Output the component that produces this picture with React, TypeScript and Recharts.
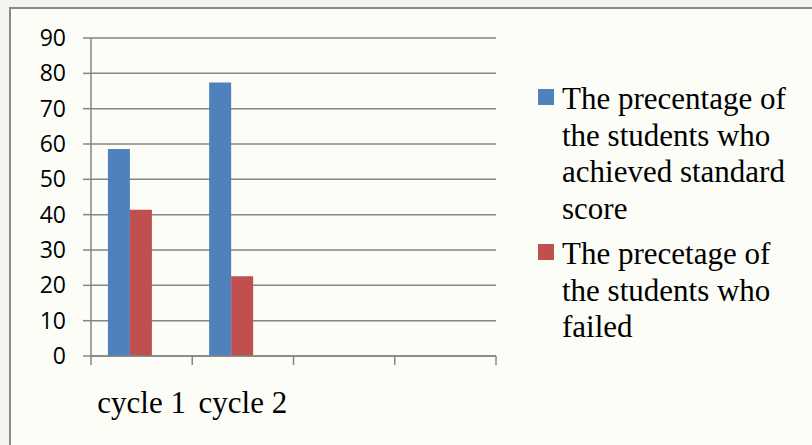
import React from 'react';
import { BarChart, Bar, XAxis, YAxis, CartesianGrid, Legend } from 'recharts';

const categories = ['cycle 1', 'cycle 2', '', ''];
const achieved = [58.6, 77.4, null, null];
const failed = [41.4, 22.6, null, null];
// third (empty) series kept so the bars sit left in each band like the original
const blank = [null, null, null, null];
const seriesNames = [
  'The precentage of the students who achieved standard score',
  'The precetage of the students who failed',
];
const seriesColors = ['#4F81BD', '#C0504D'];
const yTicks = [0, 10, 20, 30, 40, 50, 60, 70, 80, 90];

const data = categories.map((cat, i) => ({
  cat,
  achieved: achieved[i],
  failed: failed[i],
  blank: blank[i],
}));

const gridColor = '#858585';
const serif = '"Liberation Serif", "Times New Roman", serif';

const renderLegend = () => (
  <div style={{ fontFamily: serif, fontSize: 31, lineHeight: '36.7px', color: '#000', textAlign: 'left' }}>
    {seriesNames.map((name, i) => (
      <div key={name} style={{ display: 'flex', alignItems: 'flex-start', marginBottom: 8 }}>
        <span
          style={{ width: 16, height: 16, background: seriesColors[i], marginTop: 8, marginRight: 8, flex: 'none' }}
        />
        <span style={{ width: 240 }}>{name}</span>
      </div>
    ))}
  </div>
);

// label in the band centre, tick marks on the band edges (Excel style)
const CategoryTick = (props: any) => {
  const { x, y, payload, index } = props;
  const half = payload.offset ?? 0;
  const last = index === categories.length - 1;
  return (
    <g>
      <line x1={x - half} y1={y} x2={x - half} y2={y + 9} stroke={gridColor} strokeWidth={1.5} />
      {last && <line x1={x + half} y1={y} x2={x + half} y2={y + 9} stroke={gridColor} strokeWidth={1.5} />}
      <text x={x} y={y + 57} textAnchor="middle" fontFamily={serif} fontSize={31} fill="#000">
        {payload.value}
      </text>
    </g>
  );
};

export default function App() {
  return (
    <div style={{ position: 'absolute', left: 0, top: 0, width: 812, height: 445, background: '#F3F3F1', overflow: 'hidden' }}>
      <div
        style={{
          position: 'absolute',
          left: 9,
          top: 7,
          width: 830,
          height: 470,
          border: '2px solid #8a8a8a',
          background: '#FDFDF8',
        }}
      />
      <div style={{ position: 'absolute', left: 0, top: 0 }}>
        <BarChart
          width={812}
          height={445}
          data={data}
          margin={{ top: 38, right: 316, bottom: 0, left: 0 }}
          barCategoryGap="16.7%"
          barGap={0}
        >
          <CartesianGrid vertical={false} stroke={gridColor} strokeWidth={1.5} />
          <XAxis
            dataKey="cat"
            height={89}
            interval={0}
            tickLine={false}
            tickSize={0}
            tickMargin={0}
            stroke={gridColor}
            strokeWidth={1.5}
            tick={<CategoryTick />}
          />
          <YAxis
            width={91}
            domain={[0, 90]}
            ticks={yTicks}
            tickSize={8}
            tickMargin={17}
            stroke={gridColor}
            strokeWidth={1.5}
            tick={{ fontFamily: '"Open Sans", sans-serif', fontSize: 23, fill: '#000' }}
          />
          <Legend
            layout="horizontal"
            verticalAlign="middle"
            align="center"
            content={renderLegend}
            wrapperStyle={{ left: 538, top: 81, width: 270 }}
          />
          <Bar dataKey="achieved" name={seriesNames[0]} fill={seriesColors[0]} isAnimationActive={false} />
          <Bar dataKey="failed" name={seriesNames[1]} fill={seriesColors[1]} isAnimationActive={false} />
          <Bar dataKey="blank" legendType="none" fill="#000" isAnimationActive={false} />
        </BarChart>
      </div>
    </div>
  );
}
